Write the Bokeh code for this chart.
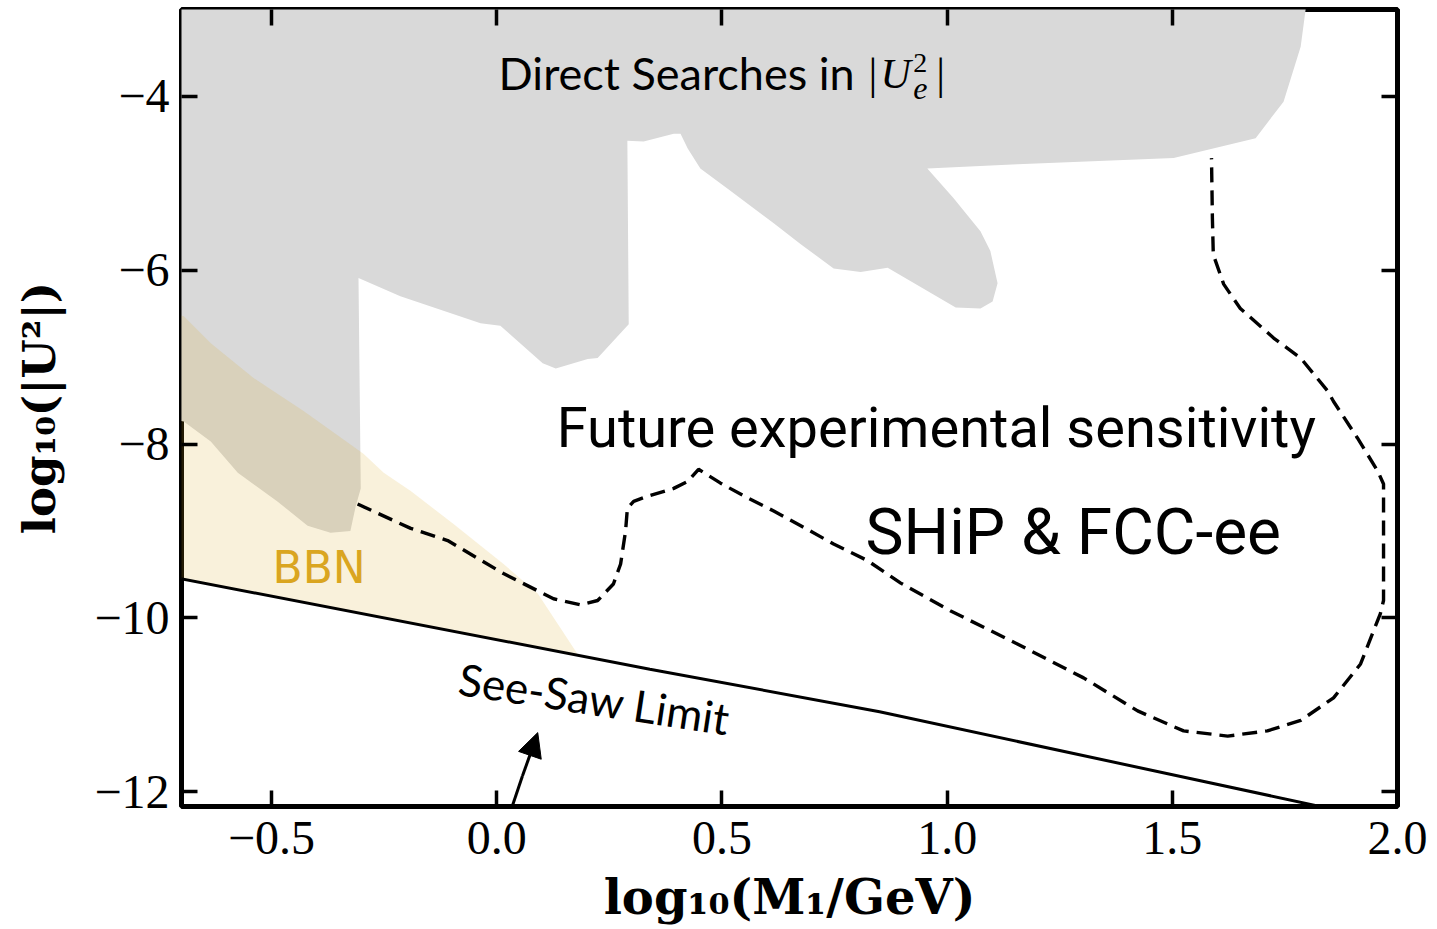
from bokeh.plotting import figure
from bokeh.models import Label, Arrow, NormalHead, LinearAxis, FixedTicker, Range1d
from bokeh.embed import file_html
from bokeh.resources import INLINE

# ---------------- data ----------------
x_ticks = [-0.5, 0.0, 0.5, 1.0, 1.5, 2.0]
x_tick_labels = ["\u22120.5", "0.0", "0.5", "1.0", "1.5", "2.0"]
y_ticks = [-12, -10, -8, -6, -4]
y_tick_labels = ["\u221212", "\u221210", "\u22128", "\u22126", "\u22124"]

# Direct searches excluded region (boundary of the grey area)
direct_x = [-0.75, 1.80, 1.796, 1.785, 1.747, 1.685, 1.503, 1.156, 0.956, 1.014, 1.074,
            1.096, 1.112, 1.101, 1.074, 1.019, 0.868, 0.808, 0.748, 0.675, 0.615, 0.512,
            0.452, 0.424, 0.408, 0.393, 0.326, 0.290, 0.293, 0.224, 0.202, 0.131, 0.102,
            0.008, -0.036, -0.214, -0.307, -0.302, -0.313, -0.325, -0.369, -0.420, -0.487,
            -0.575, -0.635, -0.695, -0.75]
direct_y = [-2.9, -2.9, -3.00, -3.43, -4.06, -4.48, -4.71, -4.78, -4.83, -5.17, -5.55,
            -5.78, -6.15, -6.36, -6.44, -6.43, -5.97, -6.02, -5.98, -5.70, -5.46, -5.06,
            -4.83, -4.60, -4.43, -4.43, -4.52, -4.51, -6.62, -7.01, -7.02, -7.13, -7.07,
            -6.64, -6.61, -6.30, -6.09, -8.51, -8.71, -9.00, -9.02, -8.94, -8.66,
            -8.33, -7.97, -7.74, -7.70]

# BBN excluded region
bbn_x = [-0.75, -0.695, -0.635, -0.540, -0.429, -0.296, -0.251, -0.191, -0.096, 0.015,
         0.091, 0.180, -0.75]
bbn_y = [-6.45, -6.53, -6.84, -7.24, -7.62, -8.11, -8.33, -8.54, -8.92, -9.38,
         -9.72, -10.42, -9.50]

# See-saw limit
seesaw_x = [-0.75, 0.34, 0.85, 1.90]
seesaw_y = [-9.50, -10.59, -11.08, -12.25]

# Future sensitivity SHiP & FCC-ee (dashed)
ship_x = [-0.309, -0.191, -0.109, 0.015, 0.126, 0.186, 0.224, 0.259, 0.275, 0.286, 0.290,
          0.304, 0.335, 0.393, 0.424, 0.448, 0.497, 0.557, 0.615, 0.675, 0.748, 0.823,
          0.897, 1.008, 1.156, 1.303, 1.423, 1.525, 1.623, 1.711, 1.785, 1.858, 1.918,
          1.962, 1.969, 1.969, 1.956, 1.911, 1.858, 1.845, 1.785, 1.725, 1.651, 1.614,
          1.591, 1.589, 1.587]
ship_y = [-8.69, -8.97, -9.11, -9.49, -9.78, -9.85, -9.80, -9.61, -9.38, -9.00, -8.74,
          -8.66, -8.60, -8.51, -8.43, -8.29, -8.45, -8.62, -8.77, -8.94, -9.15, -9.34,
          -9.60, -9.92, -10.30, -10.69, -11.07, -11.30, -11.36, -11.30, -11.18, -10.92, -10.53,
          -9.95, -9.80, -8.46, -8.31, -7.93, -7.51, -7.39, -7.01, -6.78, -6.44, -6.16,
          -5.82, -5.40, -4.71]

# curved arrow pointing at the see-saw label (enters from below the axis)
arrow_x = [-0.309, -0.214, -0.127, -0.069, -0.025, 0.008, 0.031, 0.057, 0.077, 0.091]
arrow_y = [-13.586, -13.39, -13.195, -12.99, -12.77, -12.51, -12.22, -11.82, -11.53, -11.32]

# ---------------- figure ----------------
SERIF = "Liberation Serif"
p = figure(width=1437, height=929, x_range=Range1d(-0.7, 2.0), y_range=Range1d(-12.17, -3.0),
           output_backend="svg", toolbar_location=None,
           min_border_left=181, min_border_right=40, min_border_top=9, min_border_bottom=123)
p.xgrid.visible = False
p.ygrid.visible = False
p.outline_line_color = "black"
p.outline_line_width = 5
p.background_fill_color = "white"
p.border_fill_color = "white"

p.patch(direct_x, direct_y, fill_color="#d9d9d9", line_color=None)
p.patch(bbn_x, bbn_y, fill_color="#daa520", fill_alpha=0.16, line_color=None)
p.line(seesaw_x, seesaw_y, line_color="black", line_width=3)
p.line(ship_x, ship_y, line_color="black", line_width=3.4, line_dash="15 8")


def style_axis(ax, ticks, labels, show):
    ax.ticker = FixedTicker(ticks=ticks, minor_ticks=[])
    ax.axis_line_color = None
    ax.major_tick_in = 16
    ax.major_tick_out = 0
    ax.major_tick_line_width = 3.5
    ax.major_tick_line_color = "black"
    ax.minor_tick_line_color = None
    if show:
        ax.major_label_overrides = {t: l for t, l in zip(ticks, labels)}
        ax.major_label_text_font = SERIF
        ax.major_label_text_font_size = "48px"
        ax.major_label_text_color = "black"
    else:
        ax.major_label_overrides = {t: "" for t in ticks}
        ax.major_label_standoff = 0


style_axis(p.xaxis[0], x_ticks, x_tick_labels, True)
style_axis(p.yaxis[0], y_ticks, y_tick_labels, True)
p.xaxis[0].major_label_standoff = 15
p.yaxis[0].major_label_standoff = 12
p.xaxis[0].axis_label = "log\u2081\u2080(M\u2081/GeV)"
p.yaxis[0].axis_label = "log\u2081\u2080(|U\u00b2|)"
for ax in (p.xaxis[0], p.yaxis[0]):
    ax.axis_label_text_font = "DejaVu Serif"
    ax.axis_label_text_font_style = "bold"
    ax.axis_label_text_color = "black"
p.xaxis[0].axis_label_text_font_size = "48px"
p.yaxis[0].axis_label_text_font_size = "45px"
p.xaxis[0].axis_label_standoff = 12
p.yaxis[0].axis_label_standoff = 25

top = LinearAxis()
style_axis(top, x_ticks, x_tick_labels, False)
p.add_layout(top, "above")
right = LinearAxis()
style_axis(right, y_ticks, y_tick_labels, False)
p.add_layout(right, "right")

# ---------------- texts ----------------
SANS = "Lato"
p.add_layout(Label(x=0.004, y=-3.726, text="Direct Searches in", text_font=SANS,
                   text_font_size="45px", text_color="black", text_baseline="alphabetic"))
p.add_layout(Label(x=0.8255, y=-3.747, text="|", text_font=SERIF,
                   text_font_size="44px", text_color="black", text_baseline="alphabetic"))
p.add_layout(Label(x=0.852, y=-3.744, text="U", text_font=SERIF, text_font_style="italic",
                   text_font_size="42px", text_color="black", text_baseline="alphabetic"))
p.add_layout(Label(x=0.925, y=-3.618, text="2", text_font=SERIF,
                   text_font_size="28px", text_color="black", text_baseline="alphabetic"))
p.add_layout(Label(x=0.925, y=-3.911, text="e", text_font=SERIF, text_font_style="italic",
                   text_font_size="32px", text_color="black", text_baseline="alphabetic"))
p.add_layout(Label(x=0.976, y=-3.747, text="|", text_font=SERIF,
                   text_font_size="44px", text_color="black", text_baseline="alphabetic"))

HAND = "Roboto"
p.add_layout(Label(x=0.133, y=-7.811, text="Future experimental sensitivity",
                   text_font=HAND, text_font_size="56px", text_color="black",
                   text_baseline="alphabetic"))
p.add_layout(Label(x=0.819, y=-9.018, text="SHiP & FCC-ee",
                   text_font=HAND, text_font_size="64px", text_color="black",
                   text_baseline="alphabetic"))

p.add_layout(Label(x=-0.498, y=-9.425, text="BBN", text_font="DejaVu Sans",
                   text_font_size="44px", text_color="#daa520", text_baseline="alphabetic"))
p.add_layout(Label(x=-0.083, y=-10.69, text="See-Saw Limit", text_font=SANS,
                   text_font_size="44px", text_color="black", text_baseline="alphabetic",
                   angle=-0.15))

n = len(arrow_x)
for i in range(n - 1):
    head = NormalHead(size=24, fill_color="black", line_color="black", line_width=1) if i == n - 2 else None
    p.add_layout(Arrow(end=head, x_start=arrow_x[i], y_start=arrow_y[i],
                       x_end=arrow_x[i + 1], y_end=arrow_y[i + 1],
                       line_color="black", line_width=3))

open("out.html", "w").write(file_html(p, INLINE))
